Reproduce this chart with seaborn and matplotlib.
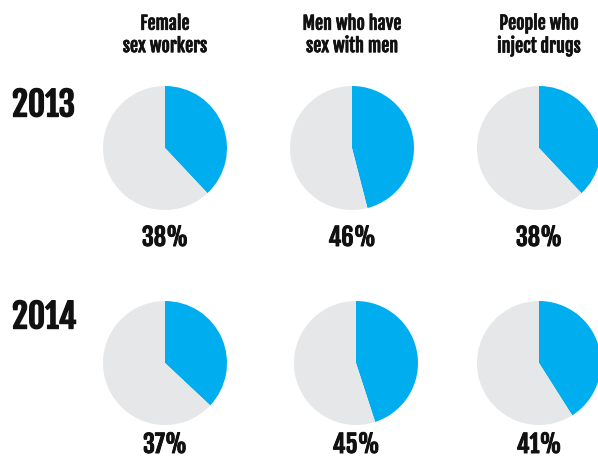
import matplotlib
matplotlib.use("Agg")
import matplotlib.pyplot as plt
import matplotlib.patheffects as pe
import seaborn as sns

# Share of key populations reached, by year
years = ["2013", "2014"]
groups = ["Female\nsex workers", "Men who have\nsex with men", "People who\ninject drugs"]
pct_2013 = [38, 46, 38]
pct_2014 = [37, 45, 41]

sns.set_theme(style="white")
plt.rcParams["font.family"] = ["Fjalla One", "Roboto Condensed", "DejaVu Sans"]

BLUE = "#00AEEF"
GREY = "#E6E7E8"
INK = "#111111"


def heavy(lw):
    # thicken the glyph outlines a little for a bolder look
    return [pe.withStroke(linewidth=lw, foreground=INK)]


W, H = 598, 459
fig = plt.figure(figsize=(W / 100, H / 100), dpi=100)
fig.patch.set_facecolor("white")

col_x = [[165, 352, 539], [165, 356, 539]]
row_y = [148, 363]
label_y = [238, 445]
year_y = [105, 317]
R = 62

for r, (year, vals) in enumerate(zip(years, [pct_2013, pct_2014])):
    fig.text(12 / W, 1 - year_y[r] / H, year, ha="left", va="center",
             fontsize=24, color=INK, path_effects=heavy(1.0))
    for c, v in enumerate(vals):
        cx, cy = col_x[r][c], row_y[r]
        ax = fig.add_axes([(cx - R) / W, 1 - (cy + R) / H, 2 * R / W, 2 * R / H])
        ax.pie([v, 100 - v], colors=[BLUE, GREY], startangle=90,
               counterclock=False, wedgeprops=dict(linewidth=0))
        ax.set_xlim(-1, 1)
        ax.set_ylim(-1, 1)
        ax.set_aspect("auto")
        ax.axis("off")
        fig.text(cx / W, 1 - label_y[r] / H, f"{v}%", ha="center", va="center",
                 fontsize=17.5, color=INK, path_effects=heavy(0.7))

for c, g in enumerate(groups):
    fig.text(col_x[0][c] / W, 1 - 35 / H, g, ha="center", va="center",
             fontsize=13, color=INK, linespacing=1.15, path_effects=heavy(0.5))

fig.savefig("out.png", dpi=100, facecolor="white")
